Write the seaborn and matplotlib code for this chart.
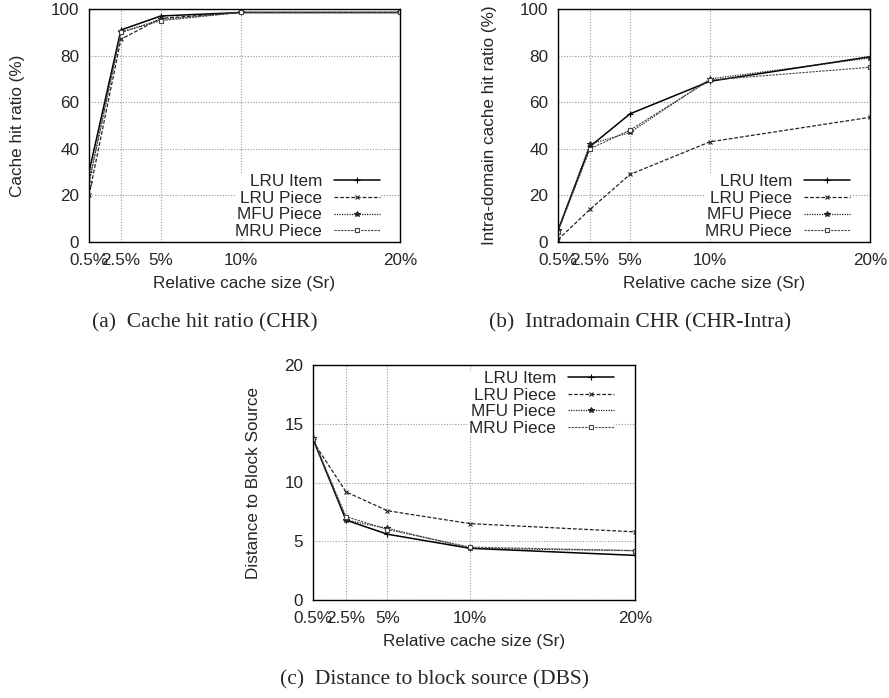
import matplotlib
matplotlib.use("Agg")
import matplotlib.pyplot as plt
import seaborn as sns
import pandas as pd

sns.set_theme(style="white")
plt.rcParams['font.family'] = ['Liberation Sans', 'DejaVu Sans']

sizes = [0.5, 2.5, 5, 10, 20]
size_labels = ["0.5%", "2.5%", "5%", "10%", "20%"]
series = ["LRU Item", "LRU Piece", "MFU Piece", "MRU Piece"]

chr_lru_item = [30, 91, 97, 98.5, 98.5]
chr_lru_piece = [20, 87, 96, 98.5, 98.5]
chr_mfu_piece = [25.5, 90, 95.5, 98.5, 98.5]
chr_mru_piece = [25.5, 90, 95, 98.5, 98.5]

intra_lru_item = [5, 41, 55, 69, 79.5]
intra_lru_piece = [1, 14, 29, 43, 53.5]
intra_mfu_piece = [5, 42, 47, 70, 79]
intra_mru_piece = [4.5, 40, 48, 69.5, 75]

dbs_lru_item = [13.7, 6.8, 5.6, 4.4, 3.8]
dbs_lru_piece = [13.5, 9.2, 7.6, 6.5, 5.8]
dbs_mfu_piece = [13.8, 6.8, 6.1, 4.4, 4.2]
dbs_mru_piece = [13.7, 7.1, 6.0, 4.5, 4.2]

styles = {
    "LRU Item": dict(color="black", linestyle="-", marker="+", markersize=4, linewidth=1.1),
    "LRU Piece": dict(color="#222222", linestyle=(0, (3, 1.5)), marker="x", markersize=3.5, linewidth=0.9),
    "MFU Piece": dict(color="#222222", linestyle=(0, (1, 1)), marker="*", markersize=4, linewidth=0.9),
    "MRU Piece": dict(color="#444444", linestyle=(0, (2, 1)), marker="s", markersize=3.5, linewidth=0.8,
                      markerfacecolor="white"),
}

FS = 12.3
CAP_FS = 15.5
fig = plt.figure(figsize=(8.89, 6.98), dpi=100)
W, H = 889, 698

def make_ax(l, t, r, b):
    return fig.add_axes([l / W, 1 - b / H, (r - l) / W, (b - t) / H])

panels = [
    (make_ax(89, 9, 400, 242), [chr_lru_item, chr_lru_piece, chr_mfu_piece, chr_mru_piece],
     (0, 100), [0, 20, 40, 60, 80, 100], "Cache hit ratio (%)", "lower right", (0.936, 0.012), -0.206),
    (make_ax(558, 9, 870, 242), [intra_lru_item, intra_lru_piece, intra_mfu_piece, intra_mru_piece],
     (0, 100), [0, 20, 40, 60, 80, 100], "Intra-domain cache hit ratio (%)", "lower right", (0.936, 0.012), -0.196),
    (make_ax(313, 365, 635, 600), [dbs_lru_item, dbs_lru_piece, dbs_mfu_piece, dbs_mru_piece],
     (0, 20), [0, 5, 10, 15, 20], "Distance to Block Source", "upper right", (0.935, 0.975), -0.161),
]

for ax, data, ylim, yticks, ylabel, loc, anchor, ylx in panels:
    for name, vals in zip(series, data):
        df = pd.DataFrame({"x": sizes, "y": vals})
        st = dict(styles[name])
        sns.lineplot(data=df, x="x", y="y", ax=ax, label=name,
                     markeredgecolor=st["color"], markeredgewidth=0.8, **st)
    ax.set_xlim(0.5, 20)
    ax.set_ylim(*ylim)
    ax.set_xticks(sizes)
    ax.set_xticklabels(size_labels)
    ax.set_yticks(yticks)
    ax.tick_params(axis="x", labelsize=FS, length=0, pad=8)
    ax.tick_params(axis="y", labelsize=FS, length=0, pad=7)
    ax.grid(True, color="#999999", linestyle=(0, (1, 1.5)), linewidth=0.8)
    for s in ax.spines.values():
        s.set_color("black")
        s.set_linewidth(1.0)
    ax.set_xlabel("Relative cache size (Sr)", fontsize=FS, labelpad=6)
    ax.set_ylabel(ylabel, fontsize=FS)
    ax.yaxis.set_label_coords(ylx, 0.5)
    leg = ax.legend(loc=loc, bbox_to_anchor=anchor, markerfirst=False, frameon=True,
                    fontsize=FS, handlelength=2.7, handletextpad=0.7, labelspacing=0.1,
                    borderpad=0.0, borderaxespad=0.0)
    leg.get_frame().set_facecolor("white")
    leg.get_frame().set_edgecolor("none")
    leg.get_frame().set_alpha(1.0)
    for t in leg.get_texts():
        t.set_ha("right")
    leg._legend_box.align = "right"

cap_font = ['Liberation Serif', 'DejaVu Serif']
fig.text(205 / W, 1 - 323 / H, "(a)  Cache hit ratio (CHR)", ha="center", va="center",
         fontsize=CAP_FS, family=cap_font)
fig.text(640 / W, 1 - 323 / H, "(b)  Intradomain CHR (CHR-Intra)", ha="center", va="center",
         fontsize=CAP_FS, family=cap_font)
fig.text(435 / W, 1 - 680 / H, "(c)  Distance to block source (DBS)", ha="center", va="center",
         fontsize=CAP_FS, family=cap_font)

fig.savefig("out.png", dpi=100)
